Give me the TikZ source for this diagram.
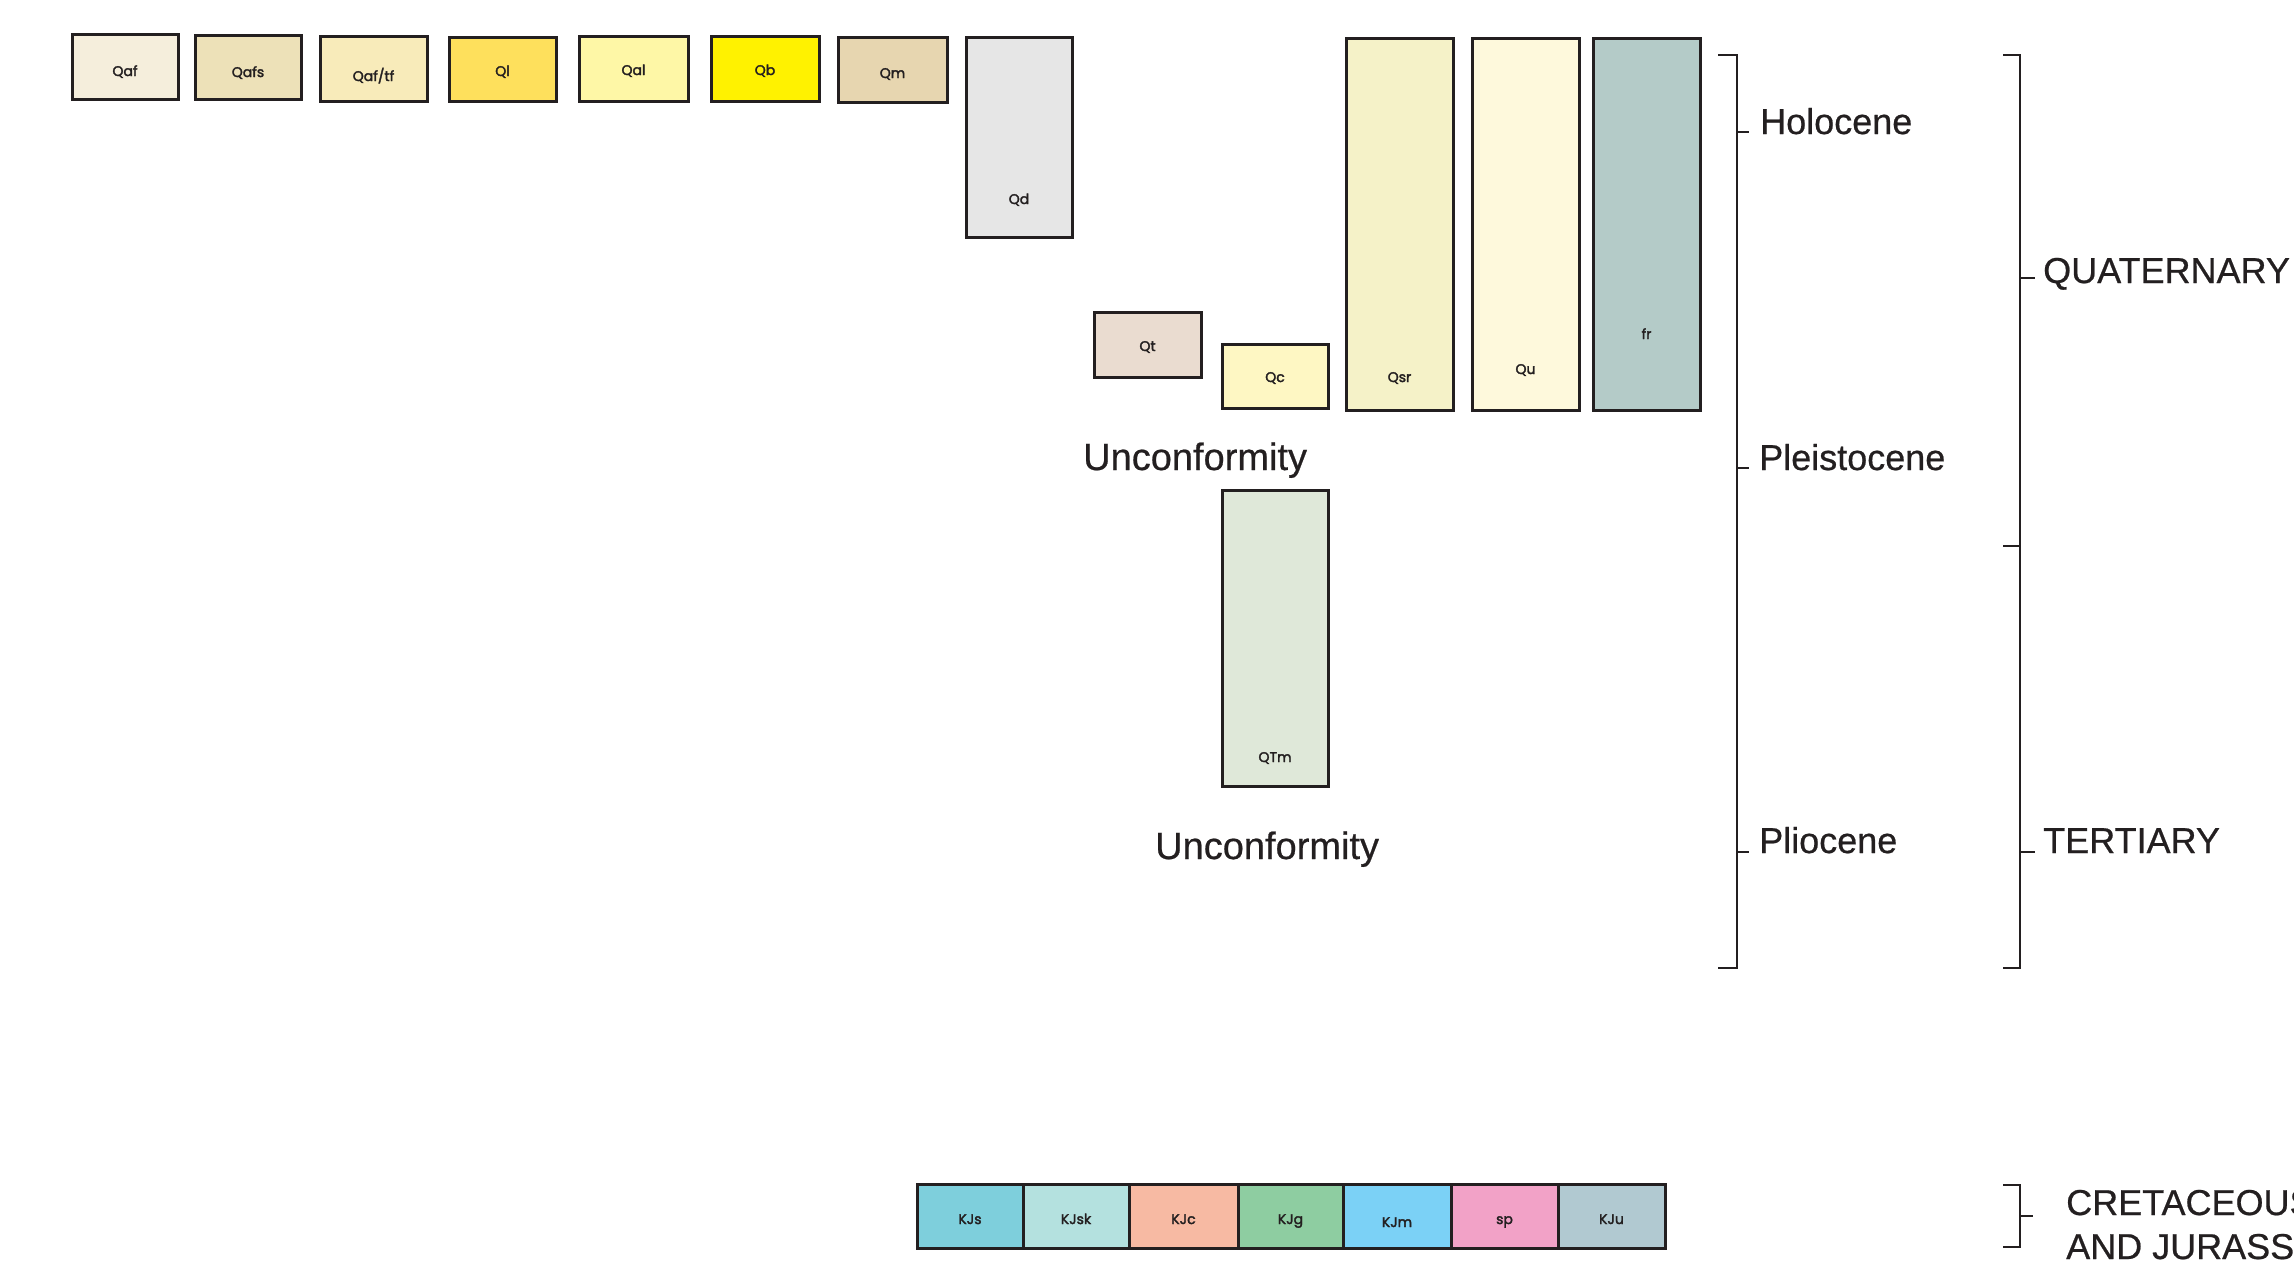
\documentclass[tikz,border=0pt]{standalone}
\usepackage{fontspec}
\setmainfont[FakeBold=0.6]{Liberation Sans}
\newfontfamily\boxfont[FakeBold=2.4]{Poppins}
\definecolor{ink}{HTML}{231F20}
\definecolor{cQaf}{HTML}{F5EEDC}
\definecolor{cQafs}{HTML}{EDE1B8}
\definecolor{cQaftf}{HTML}{F8EBBA}
\definecolor{cQl}{HTML}{FEE05C}
\definecolor{cQal}{HTML}{FEF7A6}
\definecolor{cQb}{HTML}{FFF200}
\definecolor{cQm}{HTML}{E7D6B0}
\definecolor{cQd}{HTML}{E6E6E6}
\definecolor{cQt}{HTML}{EADCD0}
\definecolor{cQc}{HTML}{FEF7C3}
\definecolor{cQsr}{HTML}{F5F2C8}
\definecolor{cQu}{HTML}{FEF9DC}
\definecolor{cfr}{HTML}{B4CBC8}
\definecolor{cQTm}{HTML}{DFE8D9}
\definecolor{cKJs}{HTML}{7ECFDC}
\definecolor{cKJsk}{HTML}{B4E1DF}
\definecolor{cKJc}{HTML}{F7BAA3}
\definecolor{cKJg}{HTML}{8ECDA1}
\definecolor{cKJm}{HTML}{7BD1F6}
\definecolor{csp}{HTML}{F2A2C7}
\definecolor{cKJu}{HTML}{B1C9D1}
\tikzset{
  unitbox/.style={draw=ink, line width=3pt, rectangle, inner sep=0pt, outer sep=0pt, anchor=north west},
  unitlbl/.style={font=\boxfont\fontsize{14}{16}\selectfont, text=ink, anchor=base, inner sep=0pt},
  bracket/.style={draw=ink, line width=2.5pt},
  epochlbl/.style={font=\fontsize{36}{43}\selectfont, text=ink, anchor=base west, inner sep=0pt},
  unconf/.style={font=\fontsize{38}{45}\selectfont, text=ink, anchor=base west, inner sep=0pt},
}
% name, x, y, w, h, colour, label, label baseline y
\newcommand\geounit[8]{%
  \node[unitbox, fill=#6, minimum width=#4pt, minimum height=#5pt] (#1) at (#2,#3) {};
  \node[unitlbl] (#1-l) at ({#2+#4/2},#8) {#7};
}
\begin{document}
\begin{tikzpicture}[x=1pt, y=-1pt]
\useasboundingbox (0,0) rectangle (2294,1272);
% top row
\geounit{qaf}{72}{34}{106}{65}{cQaf}{Qaf}{76}
\geounit{qafs}{195}{35}{106}{64}{cQafs}{Qafs}{77}
\geounit{qaftf}{320}{36}{107}{65}{cQaftf}{Qaf/tf}{81}
\geounit{ql}{449}{37}{107}{64}{cQl}{Ql}{76}
\geounit{qal}{579}{36}{109}{65}{cQal}{Qal}{75}
\geounit{qb}{711}{36}{108}{65}{cQb}{Qb}{75}
\geounit{qm}{838}{37}{109}{65}{cQm}{Qm}{78}
\geounit{qd}{966}{37}{106}{200}{cQd}{Qd}{204}
\geounit{qt}{1094}{312}{107}{65}{cQt}{Qt}{351}
\geounit{qc}{1222}{344}{106}{64}{cQc}{Qc}{382}
\geounit{qsr}{1346}{38}{107}{372}{cQsr}{Qsr}{382}
\geounit{qu}{1472}{38}{107}{372}{cQu}{Qu}{374}
\geounit{fr}{1593}{38}{107}{372}{cfr}{fr}{339}
\geounit{qtm}{1222}{490}{106}{296}{cQTm}{QTm}{762}
% bottom row
\geounit{kjs}{917}{1184}{106}{64}{cKJs}{KJs}{1224}
\geounit{kjsk}{1023}{1184}{106}{64}{cKJsk}{KJsk}{1224}
\geounit{kjc}{1129}{1184}{109}{64}{cKJc}{KJc}{1224}
\geounit{kjg}{1238}{1184}{105}{64}{cKJg}{KJg}{1224}
\geounit{kjm}{1343}{1184}{108}{64}{cKJm}{KJm}{1227}
\geounit{sp}{1451}{1184}{107}{64}{csp}{sp}{1224}
\geounit{kju}{1558}{1184}{107}{64}{cKJu}{KJu}{1224}
% unconformities
\node[unconf] (unc1) at (1083,470) {Unconformity};
\node[unconf] (unc2) at (1155,859) {Unconformity};
% epoch bracket
\draw[bracket] (1718,55) -- (1737,55) -- (1737,968) -- (1718,968);
\draw[bracket] (1737,132) -- (1749,132);
\draw[bracket] (1737,468) -- (1749,468);
\draw[bracket] (1737,852) -- (1749,852);
\node[epochlbl] (holo) at (1760,134) {Holocene};
\node[epochlbl] (pleis) at (1759,470) {Pleistocene};
\node[epochlbl] (plio) at (1759,853) {Pliocene};
% period bracket
\draw[bracket] (2003,55) -- (2020,55) -- (2020,968) -- (2003,968);
\draw[bracket] (2003,546) -- (2020,546);
\draw[bracket] (2020,278) -- (2035,278);
\draw[bracket] (2020,852) -- (2035,852);
\node[epochlbl] (quat) at (2043,283) {QUATERNARY};
\node[epochlbl] (tert) at (2043,853) {TERTIARY};
% cretaceous/jurassic bracket
\draw[bracket] (2003,1185) -- (2020,1185) -- (2020,1247) -- (2003,1247);
\draw[bracket] (2020,1216) -- (2033,1216);
\node[epochlbl] (cret) at (2066,1215) {CRETACEOUS};
\node[epochlbl] (jura) at (2066,1259) {AND JURASSIC};
\end{tikzpicture}
\end{document}
